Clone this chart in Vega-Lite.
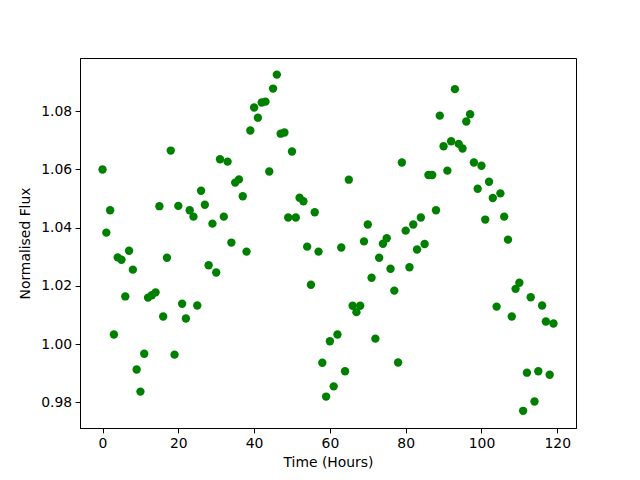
{
  "$schema": "https://vega.github.io/schema/vega-lite/v6.json",
  "width": 496,
  "height": 370,
  "autosize": {"type": "none"},
  "padding": {"left": 80, "top": 58, "right": 64, "bottom": 52},
  "background": "white",
  "config": {
    "font": "DejaVu Sans",
    "view": {"stroke": "black", "strokeWidth": 1},
    "axis": {
      "grid": false,
      "domainColor": "black",
      "tickColor": "black",
      "tickSize": 4.9,
      "labelPadding": 3.5,
      "labelFontSize": 13.9,
      "labelColor": "black",
      "titleFontSize": 13.9,
      "titleFontWeight": "normal",
      "titleColor": "black",
      "labelFont": "DejaVu Sans",
      "titleFont": "DejaVu Sans"
    }
  },
  "data": {
    "values": [
      {"t": 0, "f": 1.060}, {"t": 1, "f": 1.0383}, {"t": 2, "f": 1.046}, {"t": 3, "f": 1.0033},
      {"t": 4, "f": 1.0298}, {"t": 5, "f": 1.029}, {"t": 6, "f": 1.0164}, {"t": 7, "f": 1.0321},
      {"t": 8, "f": 1.0256}, {"t": 9, "f": 0.9913}, {"t": 10, "f": 0.9837}, {"t": 11, "f": 0.9967},
      {"t": 12, "f": 1.016}, {"t": 13, "f": 1.0168}, {"t": 14, "f": 1.0178}, {"t": 15, "f": 1.0474},
      {"t": 16, "f": 1.0095}, {"t": 17, "f": 1.0297}, {"t": 18, "f": 1.0665}, {"t": 19, "f": 0.9964},
      {"t": 20, "f": 1.0475}, {"t": 21, "f": 1.0139}, {"t": 22, "f": 1.0088}, {"t": 23, "f": 1.046},
      {"t": 24, "f": 1.0438}, {"t": 25, "f": 1.0133}, {"t": 26, "f": 1.0527}, {"t": 27, "f": 1.0479},
      {"t": 28, "f": 1.0271}, {"t": 29, "f": 1.0414}, {"t": 30, "f": 1.0246}, {"t": 31, "f": 1.0635},
      {"t": 32, "f": 1.0438}, {"t": 33, "f": 1.0627}, {"t": 34, "f": 1.0349}, {"t": 35, "f": 1.0555},
      {"t": 36, "f": 1.0566}, {"t": 37, "f": 1.0508}, {"t": 38, "f": 1.0318}, {"t": 39, "f": 1.0734},
      {"t": 40, "f": 1.0813}, {"t": 41, "f": 1.0778}, {"t": 42, "f": 1.083}, {"t": 43, "f": 1.0833},
      {"t": 44, "f": 1.0593}, {"t": 45, "f": 1.0878}, {"t": 46, "f": 1.0926}, {"t": 47, "f": 1.0723},
      {"t": 48, "f": 1.0727}, {"t": 49, "f": 1.0435}, {"t": 50, "f": 1.0662}, {"t": 51, "f": 1.0435},
      {"t": 52, "f": 1.0503}, {"t": 53, "f": 1.0491}, {"t": 54, "f": 1.0335}, {"t": 55, "f": 1.0204},
      {"t": 56, "f": 1.0453}, {"t": 57, "f": 1.0318}, {"t": 58, "f": 0.9936}, {"t": 59, "f": 0.982},
      {"t": 60, "f": 1.001}, {"t": 61, "f": 0.9855}, {"t": 62, "f": 1.0033}, {"t": 63, "f": 1.0332},
      {"t": 64, "f": 0.9907}, {"t": 65, "f": 1.0565}, {"t": 66, "f": 1.0132}, {"t": 67, "f": 1.011},
      {"t": 68, "f": 1.0132}, {"t": 69, "f": 1.0353}, {"t": 70, "f": 1.0411}, {"t": 71, "f": 1.0228},
      {"t": 72, "f": 1.0019}, {"t": 73, "f": 1.0297}, {"t": 74, "f": 1.0345}, {"t": 75, "f": 1.0364},
      {"t": 76, "f": 1.0259}, {"t": 77, "f": 1.0184}, {"t": 78, "f": 0.9937}, {"t": 79, "f": 1.0624},
      {"t": 80, "f": 1.039}, {"t": 81, "f": 1.0264}, {"t": 82, "f": 1.0411}, {"t": 83, "f": 1.0325},
      {"t": 84, "f": 1.0435}, {"t": 85, "f": 1.0344}, {"t": 86, "f": 1.0581}, {"t": 87, "f": 1.0581},
      {"t": 88, "f": 1.046}, {"t": 89, "f": 1.0785}, {"t": 90, "f": 1.068}, {"t": 91, "f": 1.0596},
      {"t": 92, "f": 1.0697}, {"t": 93, "f": 1.0876}, {"t": 94, "f": 1.0688}, {"t": 95, "f": 1.0672},
      {"t": 96, "f": 1.0765}, {"t": 97, "f": 1.079}, {"t": 98, "f": 1.0624}, {"t": 99, "f": 1.0534},
      {"t": 100, "f": 1.0613}, {"t": 101, "f": 1.0428}, {"t": 102, "f": 1.0558}, {"t": 103, "f": 1.0502},
      {"t": 104, "f": 1.0129}, {"t": 105, "f": 1.0518}, {"t": 106, "f": 1.0438}, {"t": 107, "f": 1.0359},
      {"t": 108, "f": 1.0095}, {"t": 109, "f": 1.019}, {"t": 110, "f": 1.0211}, {"t": 111, "f": 0.9771},
      {"t": 112, "f": 0.9902}, {"t": 113, "f": 1.0161}, {"t": 114, "f": 0.9803}, {"t": 115, "f": 0.9907},
      {"t": 116, "f": 1.0133}, {"t": 117, "f": 1.0078}, {"t": 118, "f": 0.9895}, {"t": 119, "f": 1.0071}
    ]
  },
  "mark": {"type": "circle", "color": "#008000", "opacity": 1, "size": 70},
  "encoding": {
    "x": {
      "field": "t",
      "type": "quantitative",
      "title": "Time (Hours)",
      "scale": {"domain": [-5.95, 124.95], "nice": false, "zero": false},
      "axis": {"values": [0, 20, 40, 60, 80, 100, 120], "titlePadding": 5}
    },
    "y": {
      "field": "f",
      "type": "quantitative",
      "title": "Normalised Flux",
      "scale": {"domain": [0.9712, 1.0983], "nice": false, "zero": false},
      "axis": {"values": [0.98, 1.0, 1.02, 1.04, 1.06, 1.08], "format": ".2f", "titlePadding": 8}
    }
  }
}
